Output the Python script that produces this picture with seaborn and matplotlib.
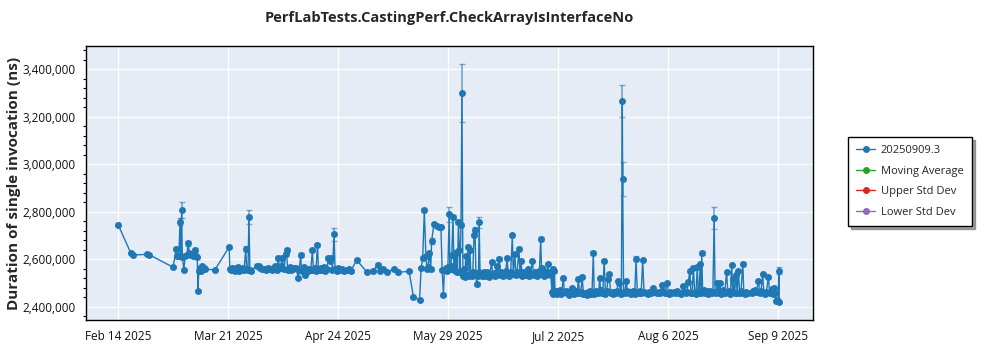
import numpy as np
import pandas as pd
import matplotlib
matplotlib.use("Agg")
import matplotlib.pyplot as plt
import matplotlib.ticker as mticker
import matplotlib.dates as mdates
from matplotlib.lines import Line2D
import seaborn as sns

TITLE = "PerfLabTests.CastingPerf.CheckArrayIsInterfaceNo"
Y_LABEL = "Duration of single invocation (ns)"
START_DATE = "2025-02-14"

# run time, in days after START_DATE
run_day = [
    0.0, 4.0, 4.6, 9.0, 9.8, 17.2, 18.2, 18.5, 19.0, 19.4,
    19.6, 19.9, 20.1, 20.6, 21.0, 21.5, 22.0, 22.3, 22.8, 23.5,
    24.2, 24.5, 24.8, 25.0, 25.3, 25.7, 26.0, 26.4, 26.8, 27.2,
    30.3,
    34.8, 35.0, 35.3, 35.6, 35.9, 36.3, 36.6, 37.0, 37.4, 37.7,
    38.0, 38.3, 38.6, 39.0, 39.5, 40.0, 40.3, 40.7, 41.0, 41.3,
    41.8, 43.4, 44.0, 44.6, 45.2, 45.8, 46.5, 47.0, 47.6, 48.2,
    48.8, 49.3, 49.8, 50.2, 50.6, 51.0, 51.4, 52.0, 52.5, 52.8,
    53.1, 53.5, 53.9, 54.3, 54.8, 55.2, 55.8, 56.5, 56.8, 57.2,
    57.5, 57.9, 58.3, 58.6, 59.0, 59.5, 59.9, 60.4, 60.9, 61.2,
    61.6, 62.0, 62.5, 62.8, 63.2, 63.7, 64.1, 64.6, 65.0, 65.5,
    65.9, 66.3, 66.8, 67.2, 67.7, 68.0, 68.5, 69.0, 69.6, 70.2,
    70.9, 71.6, 72.3, 73.0,
    74.8, 77.9, 79.9, 81.5, 82.1, 83.1, 84.3, 86.5, 87.7, 91.2,
    92.6, 94.5, 95.0, 95.5, 96.0, 96.5, 96.8, 97.1, 97.6, 98.0,
    98.3, 99.0, 99.9, 100.7, 101.2, 101.6, 102.0, 102.3, 102.7, 103.0,
    103.4, 103.8, 104.0, 104.3, 104.6, 105.0, 105.3, 105.5, 105.8, 106.1,
    106.4, 106.7, 107.0, 107.2, 107.5, 107.8, 108.1, 108.4, 108.7, 109.0,
    109.3, 109.8, 110.0, 110.3, 110.6, 110.9, 111.2, 111.6, 111.9, 112.2,
    112.4, 112.7, 113.0, 113.2, 113.5, 113.8, 114.2, 114.6, 115.0, 115.4,
    115.8, 116.2, 116.6, 117.1, 117.4, 117.8, 118.2, 118.7, 119.0, 119.5,
    119.8, 120.2, 120.6, 121.0, 121.5, 122.0, 122.3, 122.7, 123.1, 123.6,
    123.9, 124.4, 124.7, 125.1, 125.7, 126.0, 126.3, 126.7, 127.1, 127.5,
    128.0, 128.4, 128.8, 129.3, 129.9, 130.3, 130.7, 131.2, 131.7, 132.1,
    132.5, 132.8, 133.0, 133.4, 133.8, 134.3, 134.7, 135.0, 135.4, 135.7,
    136.0, 136.3, 136.5, 136.8, 137.0, 137.3, 137.6, 137.9, 138.2, 138.6,
    139.0, 139.6, 139.9, 140.3, 140.7, 141.1, 141.5, 141.8, 142.2, 142.5,
    142.9, 143.3, 143.7, 144.0, 144.3, 144.7, 145.1, 145.5, 145.9, 146.3,
    146.9, 147.3, 147.7, 148.0, 148.3, 148.6, 149.0, 149.3, 149.6, 150.0,
    150.4, 150.7, 151.0, 151.3, 151.7, 152.0, 152.4, 152.8, 153.2, 153.6,
    154.0, 154.4, 154.8, 155.2, 155.6, 156.0, 156.4, 156.8, 157.2, 157.5,
    157.8, 158.1, 158.2, 158.5, 158.9, 159.3, 159.7, 160.1, 160.5, 160.9,
    161.3, 161.7, 162.0, 162.4, 162.8, 163.2, 163.6, 164.0, 164.5, 164.9,
    165.4, 166.0, 166.6, 167.2, 167.8, 168.4, 169.0, 169.6, 170.0, 170.5,
    171.0, 171.5, 172.2, 172.6, 173.1, 173.6, 174.2, 174.8, 175.4, 176.0,
    176.6, 177.2, 177.6, 178.0, 178.4, 178.8, 179.3, 179.6, 180.0, 180.4,
    180.8, 181.2, 181.6, 181.9, 182.2, 182.5, 182.8, 183.0, 183.3, 183.7,
    184.1, 184.5, 184.9, 185.3, 185.7, 186.1, 186.5, 186.9, 187.2, 187.6,
    187.9, 188.3, 188.7, 189.0, 189.4, 189.8, 190.2, 190.8, 191.2, 191.6,
    192.0, 192.4, 192.7, 192.9, 193.3, 193.8, 194.1, 194.5, 194.9, 195.3,
    195.9, 196.2, 196.6, 197.0, 197.4, 198.7, 199.2, 199.7, 200.1, 200.8,
    201.2, 201.6, 202.1, 202.5, 202.9, 203.3, 203.9, 204.3, 204.7, 205.1,
    205.4, 205.7, 206.0, 206.3, 206.6, 207.0, 207.2, 207.3,
]

# mean duration, microseconds
duration_us = [
    2745, 2625, 2618, 2621, 2619, 2567, 2642, 2614, 2612, 2758,
    2613, 2807, 2611, 2556, 2613, 2618, 2668, 2625, 2618, 2615,
    2641, 2614, 2608, 2467, 2553, 2562, 2551, 2570, 2565, 2560,
    2555,
    2652, 2560, 2556, 2565, 2554, 2558, 2552, 2562, 2557, 2566,
    2553, 2559, 2555, 2563, 2556, 2645, 2558, 2555, 2779, 2557,
    2553, 2574, 2570, 2563, 2558, 2561, 2556, 2565, 2559, 2555,
    2562, 2570, 2557, 2605, 2562, 2570, 2607, 2558, 2622, 2640,
    2556, 2560, 2568, 2554, 2559, 2565, 2562, 2521, 2556, 2618,
    2553, 2560, 2566, 2535, 2558, 2552, 2561, 2557, 2638, 2556,
    2565, 2553, 2662, 2559, 2554, 2562, 2556, 2568, 2553, 2559,
    2606, 2593, 2607, 2557, 2705, 2560, 2552, 2564, 2555, 2558,
    2551, 2555, 2560, 2553,
    2597, 2548, 2553, 2578, 2551, 2560, 2548, 2558, 2545, 2550,
    2443, 2428, 2563, 2604, 2807, 2614, 2560, 2566, 2625, 2558,
    2676, 2748, 2740, 2738, 2737, 2556, 2452, 2556, 2562, 2550,
    2569, 2789, 2560, 2572, 2618, 2777, 2556, 2627, 2551, 2632,
    2545, 2758, 2640, 2545, 2745, 3298, 2530, 2560, 2525, 2614,
    2535, 2653, 2530, 2639, 2540, 2528, 2548, 2702, 2723, 2538,
    2495, 2532, 2545, 2755, 2536, 2541, 2530, 2545, 2532, 2538,
    2548, 2527, 2540, 2590, 2535, 2544, 2529, 2570, 2538, 2602,
    2533, 2545, 2530, 2540, 2550, 2605, 2537, 2528, 2545, 2701,
    2540, 2621, 2534, 2548, 2644, 2538, 2595, 2530, 2546, 2535,
    2541, 2560, 2528, 2543, 2593, 2535, 2548, 2532, 2540, 2552,
    2686, 2538, 2562, 2530, 2545, 2536, 2581, 2540, 2548, 2535,
    2464, 2558, 2455, 2550, 2462, 2468, 2456, 2463, 2458, 2470,
    2455, 2520, 2461, 2466, 2457, 2463, 2452, 2468, 2479, 2464,
    2455, 2460, 2466, 2458, 2517, 2457, 2462, 2527, 2455, 2460,
    2450, 2463, 2458, 2466, 2456, 2461, 2626, 2454, 2459, 2465,
    2457, 2462, 2520, 2470, 2458, 2463, 2595, 2456, 2466, 2517,
    2539, 2458, 2464, 2455, 2462, 2458, 2467, 2508, 2500, 2460,
    2455, 3266, 2938, 2463, 2458, 2510, 2466, 2457, 2462, 2456,
    2465, 2459, 2454, 2602, 2463, 2458, 2466, 2457, 2597, 2461,
    2460, 2455, 2464, 2458, 2479, 2462, 2457, 2463, 2458, 2492,
    2466, 2460, 2500, 2456, 2462, 2457, 2463, 2458, 2466, 2460,
    2455, 2488, 2463, 2458, 2461, 2506, 2552, 2460, 2457, 2565,
    2463, 2456, 2569, 2460, 2466, 2581, 2457, 2626, 2462, 2470,
    2458, 2465, 2456, 2461, 2466, 2457, 2463, 2773, 2461, 2458,
    2500, 2464, 2500, 2455, 2462, 2470, 2457, 2548, 2461, 2466,
    2456, 2576, 2463, 2516, 2458, 2535, 2460, 2552, 2457, 2465,
    2581, 2460, 2455, 2463, 2458, 2459, 2466, 2471, 2462, 2510,
    2458, 2466, 2539, 2460, 2455, 2464, 2527, 2458, 2462, 2474,
    2456, 2481, 2460, 2425, 2430, 2426, 2552, 2422,
]

# standard deviation, microseconds
std_us = [
    6, 4, 4, 4, 4, 5, 8, 5, 5, 15,
    5, 33, 5, 5, 5, 5, 10, 5, 5, 5,
    6, 5, 5, 5, 5, 5, 5, 5, 5, 5,
    5,
    6, 5, 5, 5, 5, 5, 5, 5, 5, 5,
    5, 5, 5, 5, 5, 10, 5, 5, 30, 5,
    5, 5, 5, 5, 5, 5, 5, 5, 5, 5,
    5, 5, 5, 8, 5, 5, 6, 5, 6, 8,
    5, 5, 5, 5, 5, 5, 5, 5, 5, 8,
    5, 5, 5, 5, 5, 5, 5, 5, 6, 5,
    5, 5, 6, 5, 5, 5, 5, 5, 5, 5,
    8, 5, 6, 5, 28, 5, 5, 5, 5, 5,
    5, 5, 5, 5,
    5, 5, 5, 6, 5, 5, 5, 5, 5, 5,
    5, 5, 5, 8, 8, 5, 5, 5, 5, 5,
    12, 5, 5, 5, 5, 5, 5, 5, 5, 5,
    5, 33, 5, 5, 5, 8, 5, 8, 5, 6,
    5, 8, 5, 5, 6, 122, 5, 5, 5, 5,
    5, 6, 5, 5, 5, 5, 5, 6, 15, 5,
    5, 5, 5, 22, 5, 5, 5, 5, 5, 5,
    5, 5, 5, 6, 5, 5, 5, 5, 5, 6,
    5, 5, 5, 5, 5, 6, 5, 5, 5, 6,
    5, 6, 5, 5, 6, 5, 5, 5, 5, 5,
    5, 5, 5, 5, 5, 5, 5, 5, 5, 5,
    8, 5, 5, 5, 5, 5, 5, 5, 5, 5,
    5, 5, 5, 5, 5, 5, 5, 5, 5, 5,
    5, 5, 5, 5, 5, 5, 5, 5, 5, 5,
    5, 5, 5, 5, 5, 5, 5, 6, 5, 5,
    5, 5, 5, 5, 5, 5, 8, 5, 5, 5,
    5, 5, 5, 5, 5, 5, 6, 5, 5, 5,
    5, 5, 5, 5, 5, 5, 5, 5, 5, 5,
    5, 69, 72, 5, 5, 5, 5, 5, 5, 5,
    5, 5, 5, 10, 5, 5, 5, 5, 5, 5,
    5, 5, 5, 5, 5, 5, 5, 5, 5, 5,
    5, 5, 5, 5, 5, 5, 5, 5, 5, 5,
    5, 5, 5, 5, 5, 5, 5, 5, 5, 5,
    5, 5, 5, 5, 5, 5, 5, 8, 5, 5,
    5, 5, 5, 5, 5, 5, 5, 46, 5, 5,
    5, 5, 5, 5, 5, 5, 5, 5, 5, 5,
    5, 5, 5, 5, 5, 5, 5, 5, 5, 5,
    8, 5, 5, 5, 5, 5, 5, 5, 5, 5,
    5, 5, 5, 5, 5, 5, 5, 5, 5, 5,
    5, 5, 5, 5, 5, 5, 15, 5,
]

x_tick_days = [0, 34.5, 69, 103.5, 138, 172.5, 207]
x_tick_labels = ["Feb 14 2025", "Mar 21 2025", "Apr 24 2025", "May 29 2025",
                 "Jul 2 2025", "Aug 6 2025", "Sep 9 2025"]
y_ticks = [2400000, 2600000, 2800000, 3000000, 3200000, 3400000]

legend_labels = ["20250909.3", "Moving Average", "Upper Std Dev", "Lower Std Dev"]
legend_colors = ["#1f77b4", "#2ca02c", "#d62728", "#9467bd"]

# ---------------------------------------------------------------------------
sns.set_style("white")
plt.rcParams["font.family"] = ["Open Sans", "DejaVu Sans"]

start = pd.Timestamp(START_DATE)
df = pd.DataFrame({
    "date": start + pd.to_timedelta(run_day, unit="D"),
    "duration": np.array(duration_us, dtype=float) * 1000.0,
    "std": np.array(std_us, dtype=float) * 1000.0,
})

fig = plt.figure(figsize=(10, 3.5), dpi=100)
ax = fig.add_axes([0.086, 0.0857, 0.727, 0.7829])
ax.set_facecolor("#E5ECF6")

blue = legend_colors[0]
ax.errorbar(df["date"], df["duration"], yerr=df["std"], fmt="none",
            ecolor=blue, alpha=0.55, elinewidth=1.3, capsize=2.5,
            capthick=1.0, zorder=2)
sns.lineplot(data=df, x="date", y="duration", ax=ax, estimator=None,
             sort=False, color=blue, linewidth=1.0, marker="o",
             markersize=5, markeredgewidth=0, legend=False, zorder=3)

ax.set_xlim(start - pd.Timedelta(days=10.1), start + pd.Timedelta(days=217.9))
ax.set_ylim(2345000, 3497000)

tick_dates = [start + pd.Timedelta(days=d) for d in x_tick_days]
ax.xaxis.set_major_locator(mticker.FixedLocator(mdates.date2num(tick_dates)))
ax.xaxis.set_major_formatter(mticker.FixedFormatter(x_tick_labels))
ax.yaxis.set_major_locator(mticker.FixedLocator(y_ticks))
ax.yaxis.set_major_formatter(mticker.FuncFormatter(lambda v, p: f"{v:,.0f}"))
ax.yaxis.set_minor_locator(mticker.MultipleLocator(40000))

ax.grid(True, which="major", color="white", linewidth=1.0)
ax.set_axisbelow(True)
ax.tick_params(axis="both", which="major", direction="out", length=4,
               width=0.8, color="black", labelsize=8.5, labelcolor="#111111")
ax.tick_params(axis="y", which="minor", direction="out", length=2,
               width=0.8, color="black", left=True)
for s in ax.spines.values():
    s.set_visible(True)
    s.set_color("black")
    s.set_linewidth(1.0)
ax.set_xlabel("")
ax.set_ylabel("")

fig.text(0.4495, 1 - 18 / 350, TITLE, ha="center", va="center",
         fontsize=10.5, fontweight="bold")
fig.text(0.014, 1 - 183 / 350, Y_LABEL, ha="center", va="center",
         rotation=90, fontsize=11, fontweight="bold")

handles = [Line2D([], [], color=c, marker="o", markersize=4, linewidth=1)
           for c in legend_colors]
leg = fig.legend(handles, legend_labels, loc="upper left",
                 bbox_to_anchor=(0.848, 1 - 137 / 350), frameon=True,
                 fancybox=False, shadow=True, edgecolor="black",
                 fontsize=8, handlelength=1.7, handletextpad=0.5,
                 labelspacing=0.85, borderpad=0.75, borderaxespad=0.0)
leg.get_frame().set_linewidth(1.0)

fig.savefig("out.png", dpi=100)
